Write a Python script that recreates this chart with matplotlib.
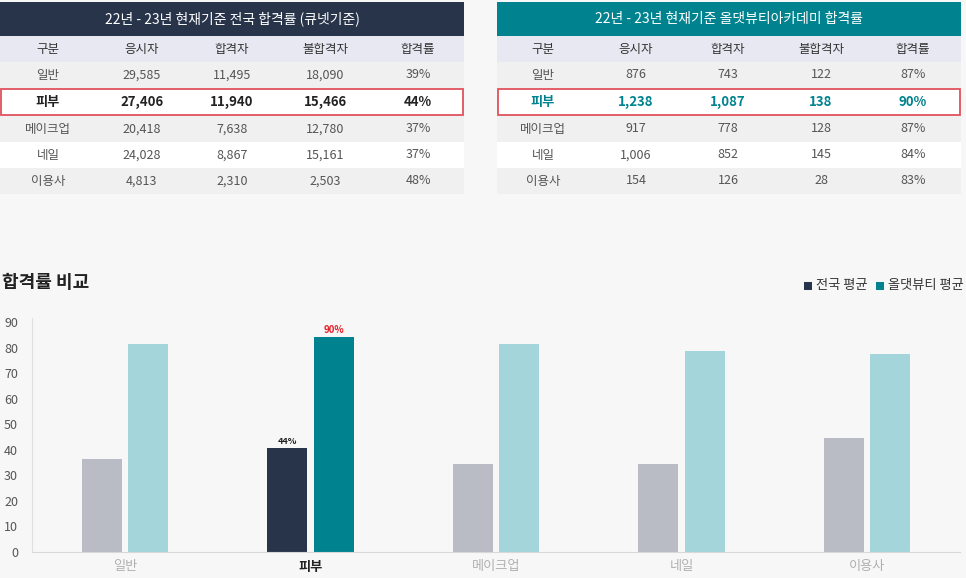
import matplotlib
matplotlib.use("Agg")
import matplotlib.pyplot as plt
from matplotlib.patches import Rectangle
import numpy as np

plt.rcParams["font.family"] = ["Noto Sans CJK JP", "Noto Sans CJK KR", "Noto Sans CJK SC",
                               "Noto Sans CJK TC", "DejaVu Sans"]

categories = ["일반", "피부", "메이크업", "네일", "이용사"]
table_cols = ["구분", "응시자", "합격자", "불합격자", "합격률"]
nat_applicants = ["29,585", "27,406", "20,418", "24,028", "4,813"]
nat_passed = ["11,495", "11,940", "7,638", "8,867", "2,310"]
nat_failed = ["18,090", "15,466", "12,780", "15,161", "2,503"]
nat_rate = ["39%", "44%", "37%", "37%", "48%"]
acad_applicants = ["876", "1,238", "917", "1,006", "154"]
acad_passed = ["743", "1,087", "778", "852", "126"]
acad_failed = ["122", "138", "128", "145", "28"]
acad_rate = ["87%", "90%", "87%", "84%", "83%"]
# bar heights as drawn in the chart
nat_bar = [36.4, 40.8, 34.4, 34.4, 44.7]
acad_bar = [81.4, 84.1, 81.4, 78.6, 77.5]
yticks = [0, 10, 20, 30, 40, 50, 60, 70, 80, 90]

W, H = 966, 578
fig = plt.figure(figsize=(W / 100, H / 100), dpi=100)
fig.patch.set_facecolor("#f7f7f7")

ov = fig.add_axes([0, 0, 1, 1])
ov.set_xlim(0, W)
ov.set_ylim(H, 0)
ov.axis("off")

def draw_table(x0, x1, title, head_color, colx, cols, hl_color):
    ov.add_patch(Rectangle((x0, 2), x1 - x0, 34, color=head_color, lw=0))
    ov.text((x0 + x1) / 2, 19, title, color="white", ha="center", va="center", fontsize=10)
    ov.add_patch(Rectangle((x0, 36), x1 - x0, 26, color="#e8e8f2", lw=0))
    for cx, c in zip(colx, table_cols):
        ov.text(cx, 49, c, ha="center", va="center", fontsize=9, color="#333333")
    row_y = [62, 88, 116, 142, 168]
    row_h = [26, 28, 26, 26, 26]
    for i in range(5):
        bg = "white" if i in (1, 3) else "#f0f0f0"
        ov.add_patch(Rectangle((x0, row_y[i]), x1 - x0, row_h[i], color=bg, lw=0))
        vals = [categories[i]] + [c[i] for c in cols]
        for cx, v in zip(colx, vals):
            if i == 1:
                ov.text(cx, row_y[i] + row_h[i] / 2, v, ha="center", va="center",
                        fontsize=9.5, fontweight="bold", color=hl_color)
            else:
                ov.text(cx, row_y[i] + row_h[i] / 2, v, ha="center", va="center",
                        fontsize=9, color="#555555")
    ov.add_patch(Rectangle((x0 + 1, 89), x1 - x0 - 2, 26, fill=False, ec="#e0505a", lw=1.3))

draw_table(0, 464, "22년 - 23년 현재기준 전국 합격률 (큐넷기준)", "#28344a",
           [48, 142, 232, 325, 418],
           [nat_applicants, nat_passed, nat_failed, nat_rate], "#222222")
draw_table(497, 961, "22년 - 23년 현재기준 올댓뷰티아카데미 합격률", "#00838f",
           [543, 636, 728, 821, 913],
           [acad_applicants, acad_passed, acad_failed, acad_rate], "#00838f")

ov.text(2, 282, "합격률 비교", fontsize=13, fontweight="bold", va="center", color="#222222")
ov.add_patch(Rectangle((804, 282), 8, 8, color="#28344a", lw=0))
ov.text(816, 286, "전국 평균", fontsize=9.5, va="center", color="#333333")
ov.add_patch(Rectangle((876, 282), 8, 8, color="#00838f", lw=0))
ov.text(888, 286, "올댓뷰티 평균", fontsize=9.5, va="center", color="#333333")

ax = fig.add_axes([32 / W, (H - 552) / H, 928 / W, 234 / H])
ax.set_facecolor("none")
x = np.arange(len(categories))
bw = 0.215
nat_colors = ["#b9bcc4"] * 5
acad_colors = ["#a3d5da"] * 5
nat_colors[1] = "#28344a"
acad_colors[1] = "#00838f"
ax.bar(x - 0.125, nat_bar, bw, color=nat_colors)
ax.bar(x + 0.125, acad_bar, bw, color=acad_colors)
ax.text(x[1] - 0.125, nat_bar[1] + 0.8, "44%", ha="center", va="bottom", fontsize=6.5,
        fontweight="bold", color="#222222")
ax.text(x[1] + 0.125, acad_bar[1] + 0.8, "90%", ha="center", va="bottom", fontsize=7,
        fontweight="bold", color="#e8202a")
ax.set_xlim(-0.5, 4.5)
ax.set_ylim(0, 91.6)
ax.set_yticks(yticks)
ax.set_xticks(x)
ax.set_xticklabels(categories)
for i, lab in enumerate(ax.get_xticklabels()):
    if i == 1:
        lab.set_fontweight("bold")
        lab.set_color("#222222")
    else:
        lab.set_color("#b0b0b0")
    lab.set_fontsize(9.5)
ax.tick_params(length=0, pad=6)
ax.tick_params(axis="y", labelsize=9, colors="#555555", pad=10)
for s in ["top", "right"]:
    ax.spines[s].set_visible(False)
ax.spines["left"].set_color("#e0e0e0")
ax.spines["bottom"].set_color("#d8d8d8")

fig.savefig("out.png", dpi=100, facecolor=fig.get_facecolor())
